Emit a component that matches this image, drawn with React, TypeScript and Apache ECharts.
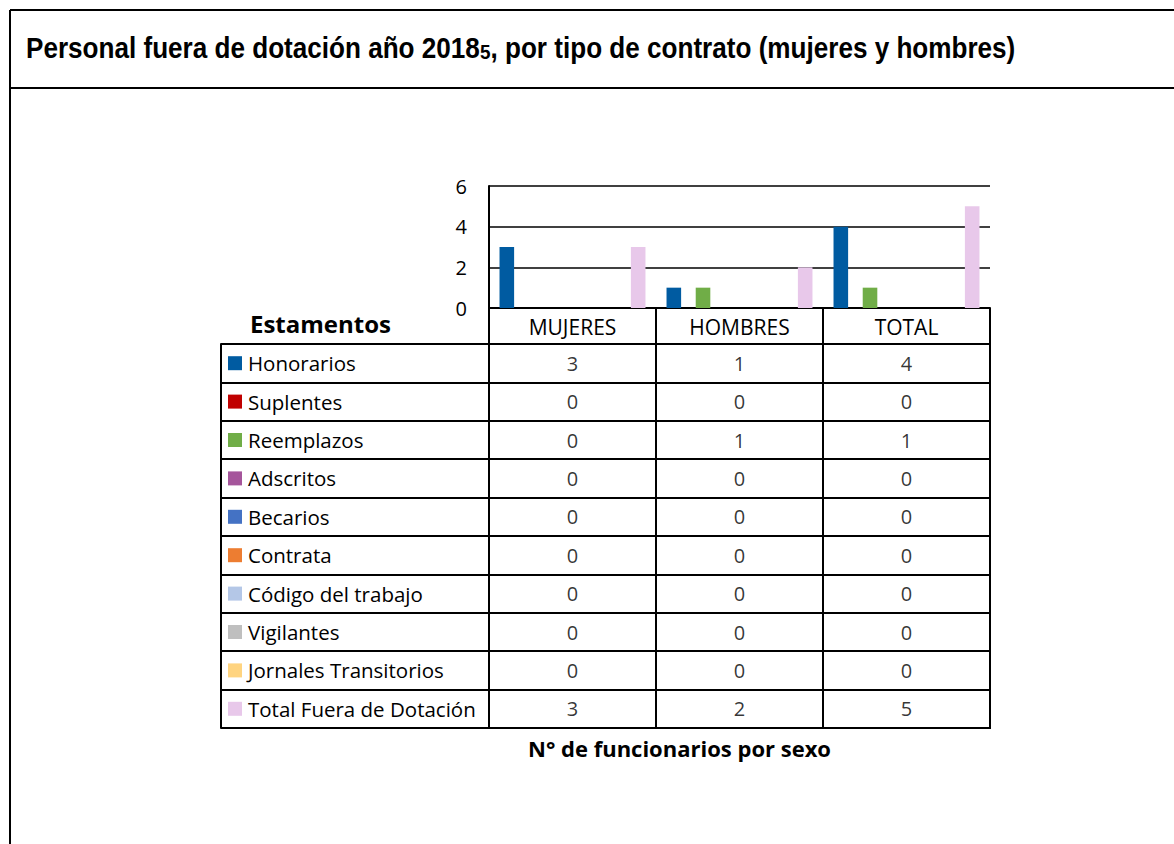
import React, { useEffect, useRef } from "react";
import * as echarts from "echarts";

const categories = ["MUJERES", "HOMBRES", "TOTAL"];
const seriesNames = [
  "Honorarios",
  "Suplentes",
  "Reemplazos",
  "Adscritos",
  "Becarios",
  "Contrata",
  "Código del trabajo",
  "Vigilantes",
  "Jornales Transitorios",
  "Total Fuera de Dotación",
];
const honorarios = [3, 1, 4];
const suplentes = [0, 0, 0];
const reemplazos = [0, 1, 1];
const adscritos = [0, 0, 0];
const becarios = [0, 0, 0];
const contrata = [0, 0, 0];
const codigoTrabajo = [0, 0, 0];
const vigilantes = [0, 0, 0];
const jornales = [0, 0, 0];
const totalFuera = [3, 2, 5];
const seriesValues = [
  honorarios,
  suplentes,
  reemplazos,
  adscritos,
  becarios,
  contrata,
  codigoTrabajo,
  vigilantes,
  jornales,
  totalFuera,
];
const colors = [
  "#005BA1",
  "#C00000",
  "#70AD47",
  "#A5559B",
  "#4472C4",
  "#ED7D31",
  "#B4C7E7",
  "#BFBFBF",
  "#FFD480",
  "#E8C8EA",
];
const yTicks = { min: 0, max: 6, interval: 2 };

const FONT = "'Open Sans', sans-serif";
const TITLE_FONT = "'Liberation Sans', Arial, sans-serif";

export default function App() {
  const ref = useRef<HTMLDivElement>(null);
  useEffect(() => {
    if (!ref.current) return;
    const chart = echarts.init(ref.current, null, { renderer: "svg" });
    const rich: any = {
      t: { fontSize: 20.5, color: "#000", fontFamily: FONT, padding: [0, 0, 0, 6] },
    };
    colors.forEach((c, i) => {
      rich["s" + i] = { width: 14, height: 14, backgroundColor: c };
    });
    const tableData: any[] = [];
    seriesValues.forEach((vals, r) => {
      vals.forEach((v, c) => tableData.push([c, r, v]));
    });
    const black = { color: "#000", width: 2 };
    const option: any = {
      animation: false,
      backgroundColor: "#fff",
      textStyle: { fontFamily: FONT },
      grid: [
        { left: 489, top: 186, width: 501, height: 122 },
        {
          left: 489,
          top: 344,
          width: 501,
          height: 384,
          show: true,
          borderColor: "#000",
          borderWidth: 2,
        },
      ],
      xAxis: [
        {
          type: "category",
          gridIndex: 0,
          data: categories,
          axisLine: { show: true, lineStyle: black },
          axisTick: { show: true, length: 36, lineStyle: black },
          axisLabel: { color: "#000", fontSize: 21, margin: 8, fontFamily: FONT },
          splitLine: { show: false },
        },
        {
          type: "category",
          gridIndex: 1,
          data: categories,
          axisLine: { show: false },
          axisTick: { show: false },
          axisLabel: { show: false },
          splitLine: { show: true, lineStyle: black },
        },
      ],
      yAxis: [
        {
          type: "value",
          gridIndex: 0,
          min: yTicks.min,
          max: yTicks.max,
          interval: yTicks.interval,
          axisLine: { show: true, lineStyle: black },
          axisTick: { show: false },
          axisLabel: { color: "#000", fontSize: 20, margin: 22, fontFamily: FONT },
          splitLine: { show: true, lineStyle: { color: "#000", width: 1.5 } },
        },
        {
          type: "category",
          gridIndex: 1,
          data: seriesNames,
          inverse: true,
          axisLine: { show: true, lineStyle: black },
          axisTick: { show: true, length: 268, lineStyle: black },
          axisLabel: {
            align: "left",
            margin: 261,
            formatter: (v: string, i: number) => `{s${i}|}{t|${v}}`,
            rich,
          },
          splitLine: { show: true, lineStyle: black },
        },
        {
          type: "category",
          gridIndex: 1,
          data: seriesNames,
          inverse: true,
          position: "left",
          offset: 268,
          axisLine: { show: true, lineStyle: black },
          axisTick: { show: false },
          axisLabel: { show: false },
          splitLine: { show: false },
        },
      ],
      series: [
        ...seriesNames.map((name, i) => ({
          name,
          type: "bar",
          xAxisIndex: 0,
          yAxisIndex: 0,
          data: seriesValues[i],
          barGap: "0%",
          barCategoryGap: "12.6%",
          itemStyle: { color: colors[i] },
        })),
        {
          type: "scatter",
          xAxisIndex: 1,
          yAxisIndex: 1,
          data: tableData,
          symbolSize: 2,
          itemStyle: { color: "rgba(0,0,0,0)" },
          label: {
            show: true,
            position: "inside",
            color: "#000",
            fontSize: 20,
            fontFamily: FONT,
            formatter: (p: any) => String(p.value[2]),
          },
        },
      ],
      graphic: [
        { type: "line", shape: { x1: 10, y1: 10, x2: 1174, y2: 10 }, style: { stroke: "#000", lineWidth: 2 } },
        { type: "line", shape: { x1: 10, y1: 88, x2: 1174, y2: 88 }, style: { stroke: "#000", lineWidth: 2 } },
        { type: "line", shape: { x1: 10, y1: 10, x2: 10, y2: 844 }, style: { stroke: "#000", lineWidth: 2 } },
        {
          type: "text",
          x: 26,
          y: 48,
          scaleX: 0.9,
          style: {
            text: "{a|Personal fuera de dotación año 2018}{b|5}{a|, por tipo de contrato (mujeres y hombres)}",
            verticalAlign: "middle",
            rich: {
              a: { fontFamily: TITLE_FONT, fontWeight: "bold", fontSize: 29, fill: "#000", color: "#000" },
              b: { fontFamily: TITLE_FONT, fontWeight: "bold", fontSize: 21, fill: "#000", color: "#000", verticalAlign: "bottom" },
            },
          },
        },
        {
          type: "text",
          left: 250,
          top: 311,
          style: { text: "Estamentos", font: `bold 24px ${FONT}`, fill: "#000" },
        },
        {
          type: "text",
          left: 528,
          top: 737,
          style: { text: "N° de funcionarios por sexo", font: `bold 22px ${FONT}`, fill: "#000" },
        },
      ],
    };
    chart.setOption(option);
    return () => chart.dispose();
  }, []);
  return (
    <div
      ref={ref}
      style={{ position: "absolute", left: 0, top: 0, width: 1174, height: 844 }}
    />
  );
}
